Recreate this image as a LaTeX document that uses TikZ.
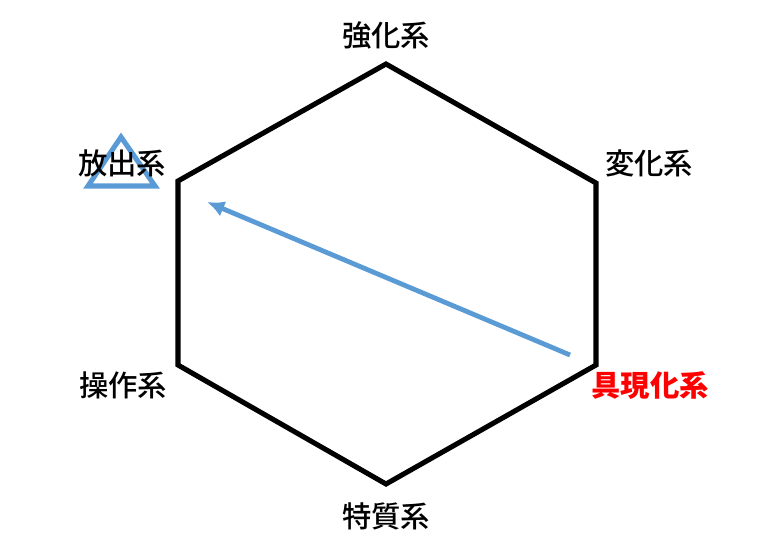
\documentclass[tikz,border=0pt]{standalone}
\usepackage{fontspec}
\setmainfont{Noto Sans CJK JP}
\newfontfamily\medfont[UprightFont={* Medium}]{Noto Sans CJK JP}
\usepackage{tikz}
\usepackage{xcolor}
\usetikzlibrary{arrows.meta}
\definecolor{arrowblue}{RGB}{91,155,213}

\begin{document}
\begin{tikzpicture}[x=0.75pt,y=-0.75pt,
    label/.style={font=\fontsize{22}{26}\selectfont\medfont,inner sep=0pt},
    edge/.style={black,line width=3.8pt,line join=miter}]
                \useasboundingbox (0,0) rectangle (780,557);
                % vertices of the hexagon
                \coordinate (kyo) at (386,64);
                \coordinate (hen) at (596,183);
                \coordinate (gu) at (596,365);
                \coordinate (toku) at (386,484);
                \coordinate (sou) at (178,365);
                \coordinate (hou) at (178,181);
                \draw[edge] (kyo) -- (hen) -- (gu) -- (toku) -- (sou) -- (hou) -- cycle;
                % triangle mark
                \draw[arrowblue,line width=3.8pt,line join=miter]
                    (121,137) -- (155,186) -- (88,186) -- cycle;
                \node[label] (kyolabel) at (386,35) {強化系};
                \node[label] (henlabel) at (649,163) {変化系};
                \node[label,red,font=\fontsize{22}{26}\selectfont\bfseries] (gulabel) at (650,386) {具現化系};
                \node[label] (tokulabel) at (386,516) {特質系};
                \node[label] (soulabel) at (123,385) {操作系};
                \node[label] (houlabel) at (122,163) {放出系};
                % arrow
                \coordinate (start) at (570,355);
                \coordinate (end) at (207,202);
                \draw[-{Latex[length=13pt,width=12pt]},arrowblue,line width=3.6pt] (start) -- (end);
            \end{tikzpicture}
\end{document}
